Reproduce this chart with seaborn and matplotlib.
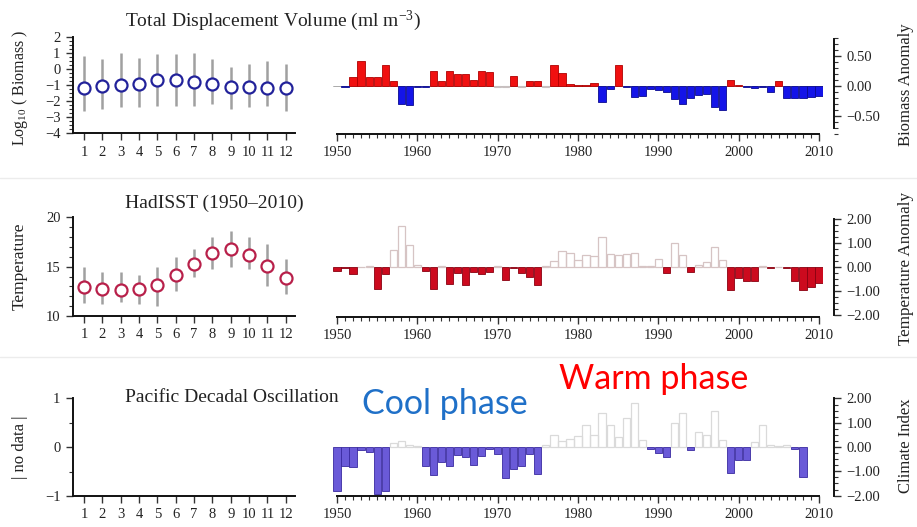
import numpy as np
import pandas as pd
import matplotlib
matplotlib.use("Agg")
import matplotlib.pyplot as plt
from matplotlib.ticker import MultipleLocator, FuncFormatter
from matplotlib.lines import Line2D
import seaborn as sns

sns.set_theme(style="white")
plt.rcParams['font.family'] = ['Liberation Serif', 'DejaVu Serif']
plt.rcParams['mathtext.fontset'] = 'custom'
plt.rcParams['mathtext.rm'] = 'Liberation Serif'
plt.rcParams['mathtext.it'] = 'Liberation Serif:italic'

# ---------------- data ----------------
months = list(range(1, 13))
month_labels = [str(m) for m in months]

bio_mean = [-1.2, -1.08, -1.0, -0.95, -0.7, -0.7, -0.85, -0.95, -1.12, -1.15, -1.2, -1.2]
bio_hi = [0.8, 0.6, 1.0, 0.7, 0.9, 0.9, 1.0, 0.6, 0.1, 0.3, 0.5, 0.3]
bio_lo = [-2.6, -2.5, -2.4, -2.4, -2.3, -2.3, -2.3, -2.2, -2.5, -2.4, -2.3, -2.6]

temp_mean = [12.9, 12.7, 12.6, 12.7, 13.1, 14.2, 15.3, 16.35, 16.75, 16.2, 15.1, 13.8]
temp_hi = [15.0, 14.5, 14.5, 14.2, 15.0, 16.0, 16.8, 18.0, 18.6, 18.0, 17.3, 15.8]
temp_lo = [11.3, 11.2, 11.4, 11.2, 11.0, 12.5, 14.0, 14.8, 15.0, 14.8, 13.0, 12.2]

years = list(range(1950, 2011))
year_ticks = [1950, 1960, 1970, 1980, 1990, 2000, 2010]

biomass_anom = [np.nan, -0.02, 0.15, 0.42, 0.15, 0.15, 0.35, 0.08, -0.30, -0.31,
                -0.01, -0.02, 0.25, 0.08, 0.25, 0.20, 0.20, 0.10, 0.25, 0.24,
                np.nan, np.nan, 0.17, np.nan, 0.08, 0.08, np.nan, 0.35, 0.22, 0.03,
                0.02, 0.01, 0.05, -0.27, -0.05, 0.35, -0.01, -0.18, -0.17, -0.05,
                -0.06, -0.10, -0.22, -0.30, -0.20, -0.15, -0.13, -0.35, -0.40, 0.10,
                0.02, -0.02, -0.03, -0.02, -0.10, 0.08, -0.20, -0.20, -0.20, -0.18,
                -0.17]
biomass_faint = [np.nan] * 20 + [-0.02, -0.02, np.nan, -0.02, np.nan, np.nan, -0.02] + [np.nan] * 34

temp_anom = [-0.16, -0.05, -0.30, 0.02, 0.05, -0.93, -0.30, 0.70, 1.70, 0.90,
             0.10, -0.15, -0.90, 0.05, -0.70, -0.25, -0.77, -0.20, -0.30, -0.20,
             0.05, -0.55, -0.05, -0.25, -0.40, -0.77, 0.05, 0.25, 0.65, 0.60,
             0.30, 0.50, 0.45, 1.25, 0.55, 0.50, 0.55, 0.60, 0.05, 0.05,
             0.35, -0.25, 1.00, 0.50, -0.20, 0.10, 0.20, 0.85, 0.30, -0.95,
             -0.45, -0.60, -0.60, 0.05, -0.05, 0.00, -0.05, -0.60, -0.95, -0.85,
             -0.65]

pdo_index = [-1.80, -0.78, -0.82, -0.12, -0.20, -1.95, -1.80, 0.15, 0.25, 0.10,
             0.05, -0.80, -1.14, -0.60, -0.77, -0.32, -0.43, -0.72, -0.35, -0.10,
             -0.30, -1.27, -0.90, -0.78, -0.30, -1.10, 0.10, 0.50, 0.25, 0.35,
             0.45, 0.90, 0.50, 1.40, 0.90, 0.40, 1.20, 1.80, 0.30, -0.10,
             -0.25, -0.40, 1.00, 1.40, -0.12, 0.60, 0.50, 1.50, 0.30, -1.05,
             -0.52, -0.55, 0.20, 0.90, 0.10, 0.05, 0.10, -0.10, -1.25, np.nan,
             np.nan]

# ---------------- figure ----------------
W, H = 917, 527
fig = plt.figure(figsize=(W / 100, H / 100), dpi=100)
fig.patch.set_facecolor('white')


def ax_px(l, t, r, b):
    return fig.add_axes([l / W, 1 - b / H, (r - l) / W, (b - t) / H])


TICKFS = 10.5
TXT = '#222222'


def style_left(ax, ylim, major, minor, mean, lo, hi, edge):
    ax.set_facecolor('none')
    if mean is not None:
        ax.vlines(months, lo, hi, color='#a0a0a0', lw=1.8, zorder=1)
        sns.scatterplot(x=months, y=mean, ax=ax, marker='o', s=75,
                        facecolor='white', edgecolor=edge, linewidth=1.6,
                        zorder=3, legend=False)
    ax.set_xlim(0.4, 12.5)
    ax.set_ylim(*ylim)
    ax.set_xticks(months)
    ax.set_xticklabels(month_labels)
    ax.yaxis.set_major_locator(MultipleLocator(major))
    ax.yaxis.set_minor_locator(MultipleLocator(minor))
    for s in ['top', 'right']:
        ax.spines[s].set_visible(False)
    for s in ['left', 'bottom']:
        ax.spines[s].set_color('#111111')
        ax.spines[s].set_linewidth(1.4)
    ax.tick_params(axis='both', which='major', direction='out', length=5,
                   width=1.0, color='#333333', labelsize=TICKFS, labelcolor=TXT,
                   left=True, bottom=True, pad=4)
    ax.tick_params(axis='y', which='minor', direction='out', length=3,
                   width=0.8, color='#333333', left=True)
    ax.set_xlabel('')
    ax.set_ylabel('')


def bar_series(ax, vals, color, edge, fill=True, lw=0.6):
    df = pd.DataFrame({'year': years, 'value': vals}).dropna()
    if df.empty:
        return
    sns.barplot(data=df, x='year', y='value', native_scale=True, ax=ax,
                color=color, edgecolor=edge, linewidth=lw, width=0.9,
                errorbar=None, fill=fill, saturation=1, legend=False)


def style_right(ax, ylim, bounds, yticks, minor):
    ax.set_facecolor('none')
    ax.set_xlim(1949.5, 2010.5)
    ax.set_ylim(*ylim)
    ax.yaxis.tick_right()
    ax.yaxis.set_label_position('right')
    ax.spines['left'].set_visible(False)
    ax.spines['top'].set_visible(False)
    ax.spines['right'].set_position(('outward', 8))
    ax.spines['right'].set_bounds(*bounds)
    ax.spines['bottom'].set_bounds(1950, 2010)
    for s in ['right', 'bottom']:
        ax.spines[s].set_color('#111111')
        ax.spines[s].set_linewidth(1.4)
    ax.set_xticks(year_ticks)
    ax.set_xticklabels([str(y) for y in year_ticks])
    ax.xaxis.set_minor_locator(MultipleLocator(1))
    ax.set_yticks(yticks)
    ax.yaxis.set_minor_locator(MultipleLocator(minor))
    ax.yaxis.set_major_formatter(FuncFormatter(lambda v, p: f"{v:.2f}".replace('-', '\u2212')))
    ax.tick_params(axis='both', which='major', direction='out', length=5,
                   width=1.0, color='#333333', labelsize=TICKFS, labelcolor=TXT,
                   right=True, bottom=True, left=False, pad=4)
    ax.tick_params(axis='both', which='minor', direction='out', length=3,
                   width=0.8, color='#333333', right=True, bottom=True, left=False)
    ax.set_xlabel('')
    ax.set_ylabel('')


# ---- row 1: biomass ----
axL1 = ax_px(73, 36.7, 295, 133)
style_left(axL1, (-4, 2), 1, 0.25, bio_mean, bio_lo, bio_hi, '#22229a')

axR1 = ax_px(333, 35, 823, 134)
bio_pos = [v if (not np.isnan(v) and v >= 0) else np.nan for v in biomass_anom]
bio_neg = [v if (not np.isnan(v) and v < 0) else np.nan for v in biomass_anom]
bar_series(axR1, bio_pos, '#f01010', '#b00000')
bar_series(axR1, bio_neg, '#1414e8', '#0a0a90')
bar_series(axR1, biomass_faint, '#c8c0c0', '#c8c0c0', fill=False, lw=0.8)
axR1.axhline(0, color='#888888', lw=0.5, zorder=0)
style_right(axR1, (-0.8, 0.85), (-0.7, 0.78), [-0.5, 0.0, 0.5], 0.1)

# ---- row 2: temperature ----
axL2 = ax_px(73, 217.3, 295, 316)
style_left(axL2, (10, 20), 5, 1, temp_mean, temp_lo, temp_hi, '#b8204a')

axR2 = ax_px(333, 216.6, 823, 316.7)
t_pos = [v if v >= 0 else np.nan for v in temp_anom]
t_neg = [v if v < 0 else np.nan for v in temp_anom]
bar_series(axR2, t_pos, '#d6c4c4', '#d6c4c4', fill=False, lw=0.9)
bar_series(axR2, t_neg, '#cc0a1e', '#8a0010')
style_right(axR2, (-2.07, 2.1), (-2, 2), [-2, -1, 0, 1, 2], 0.25)

# ---- row 3: PDO ----
axL3 = ax_px(73, 398, 295, 496)
style_left(axL3, (-1, 1), 1, 0.5, None, None, None, '#000000')

axR3 = ax_px(333, 396, 823, 495.6)
p_pos = [v if (not np.isnan(v) and v >= 0) else np.nan for v in pdo_index]
p_neg = [v if (not np.isnan(v) and v < 0) else np.nan for v in pdo_index]
bar_series(axR3, p_pos, '#dadada', '#dadada', fill=False, lw=0.9)
bar_series(axR3, p_neg, '#6a5ad8', '#3a2aa0')
style_right(axR3, (-2.0, 2.1), (-2, 2), [-2, -1, 0, 1, 2], 0.25)

# ---- titles and labels ----
def fx(x):
    return x / W


def fy(y):
    return 1 - y / H


fig.text(fx(125), fy(21), 'Total Displacement Volume (ml m$^{-3}$)', fontsize=14,
         color=TXT, ha='left', va='center')
fig.text(fx(125), fy(203), 'HadISST (1950\u20132010)', fontsize=14,
         color=TXT, ha='left', va='center')
fig.text(fx(125), fy(398), 'Pacific Decadal Oscillation', fontsize=14,
         color=TXT, ha='left', va='center')

fig.text(fx(20), fy(88), 'Log$_{10}$ ( Biomass )', rotation=90, fontsize=11.5,
         color=TXT, ha='center', va='center')
fig.text(fx(20), fy(266), 'Temperature', rotation=90, fontsize=12.5,
         color=TXT, ha='center', va='center')
fig.text(fx(20), fy(447), '| no data |', rotation=90, fontsize=12,
         color=TXT, ha='center', va='center')

fig.text(fx(906), fy(85), 'Biomass Anomaly', rotation=90, fontsize=12,
         color=TXT, ha='center', va='center')
fig.text(fx(906), fy(268), 'Temperature Anomaly', rotation=90, fontsize=12.3,
         color=TXT, ha='center', va='center')
fig.text(fx(906), fy(446), 'Climate Index', rotation=90, fontsize=12,
         color=TXT, ha='center', va='center')

fig.text(fx(362), fy(404), 'Cool phase', fontsize=24.5, color='#1f70c8',
         family=['Lato', 'DejaVu Sans'], ha='left', va='center')
fig.text(fx(559), fy(379), 'Warm phase', fontsize=24.5, color='#ff0000',
         family=['Lato', 'DejaVu Sans'], ha='left', va='center')

# faint row separators
for yy in (178, 357):
    fig.add_artist(Line2D([0, 1], [fy(yy), fy(yy)], color='#ececec', lw=1.0))

fig.savefig('out.png', dpi=100, facecolor='white')
